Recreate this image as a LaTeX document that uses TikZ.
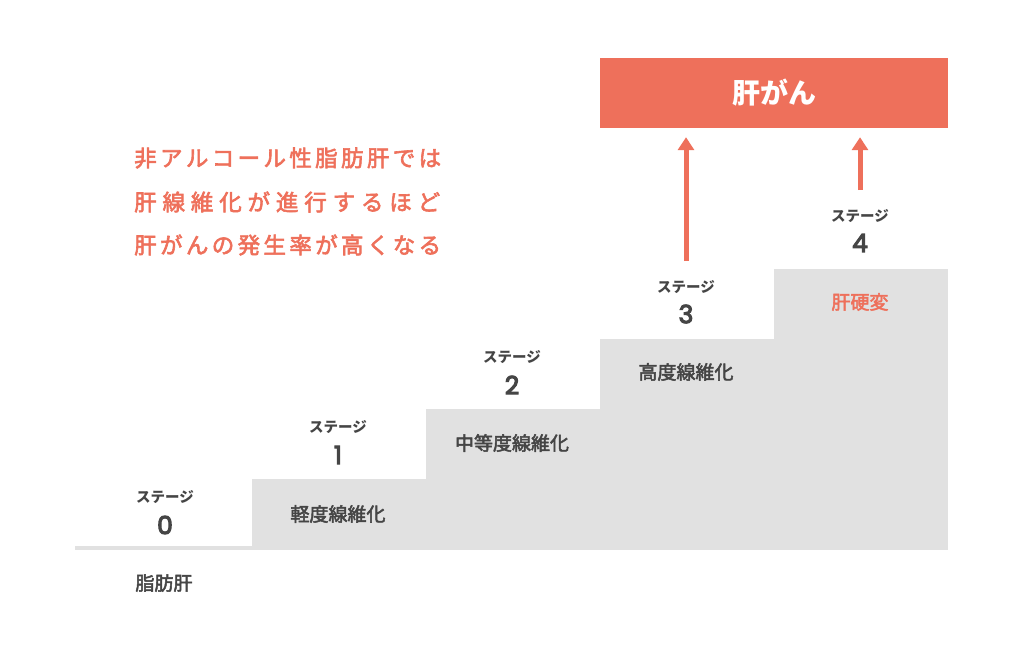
\documentclass[tikz,border=0pt]{standalone}
\usepackage{fontspec}
\usetikzlibrary{arrows.meta}
\setmainfont{Noto Sans CJK JP}
\newfontfamily\jp{Noto Sans CJK JP}
\newfontfamily\numfont{Poppins}
\newcommand\heavier[2]{\special{pdf:literal direct 2 Tr #1 w}#2\special{pdf:literal direct 0 Tr}}
\definecolor{salmon}{HTML}{EE705B}
\definecolor{stepgray}{HTML}{E1E1E1}
\definecolor{ink}{HTML}{454545}
\tikzset{
  x=1pt, y=-1pt,
  block/.style={fill=stepgray, draw=none},
  stagelbl/.style={font=\jp\bfseries\fontsize{14.5}{14.5}\selectfont, text=ink, inner sep=0},
  stagenum/.style={font=\numfont\fontsize{25}{25}\selectfont, text=ink, inner sep=0},
  blocklbl/.style={font=\jp\fontsize{19}{19}\selectfont, text=ink, inner sep=0},
  bigarrow/.style={draw=salmon, line width=5pt, shorten >=9pt, -{Triangle[width=16pt,length=13pt]}},
  msg/.style={font=\jp\fontsize{22.5}{22.5}\selectfont, text=salmon, inner sep=0, anchor=west}
}
\begin{document}
\begin{tikzpicture}
\useasboundingbox (0,0) rectangle (1024,647);
% floor and steps
\fill[stepgray] (75,546) rectangle (948,550);
\fill[stepgray] (252,479) rectangle (948,550);
\fill[stepgray] (426,409) rectangle (948,550);
\fill[stepgray] (600,339) rectangle (948,550);
\fill[stepgray] (774,269) rectangle (948,550);
% cancer box
\node[fill=salmon, minimum width=348pt, minimum height=70pt, inner sep=0,
  font=\jp\bfseries\fontsize{28}{28}\selectfont, text=white] (cancer) at (774,93) {肝がん};
% message
\node[msg] (m1) at (134,158) {\heavier{0.6}{\makebox[306pt][s]{非 ア ル コ ー ル 性 脂 肪 肝 で は}}};
\node[msg] (m2) at (134,202) {\heavier{0.6}{\makebox[306pt][s]{肝 線 維 化 が 進 行 す る ほ ど}}};
\node[msg] (m3) at (134,245) {\heavier{0.6}{\makebox[306pt][s]{肝 が ん の 発 生 率 が 高 く な る}}};
% stage labels
\node[stagelbl] (s0) at (165,497) {ステージ};
\node[stagenum] (n0) at (165,525) {\heavier{1.1}{0}};
\node[stagelbl] (s1) at (338,427) {ステージ};
\node[stagenum] (n1) at (338,455) {\heavier{1.1}{1}};
\node[stagelbl] (s2) at (512,357) {ステージ};
\node[stagenum] (n2) at (512,385) {\heavier{1.1}{2}};
\node[stagelbl] (s3) at (686,287) {ステージ};
\node[stagenum] (n3) at (686,314) {\heavier{1.1}{3}};
\node[stagelbl] (s4) at (860,216) {ステージ};
\node[stagenum] (n4) at (860,243) {\heavier{1.1}{4}};
% block labels
\node[blocklbl] (b0) at (164,583) {\heavier{0.5}{脂肪肝}};
\node[blocklbl] (b1) at (338,514) {\heavier{0.5}{軽度線維化}};
\node[blocklbl] (b2) at (512,443) {\heavier{0.5}{中等度線維化}};
\node[blocklbl] (b3) at (686,372) {\heavier{0.5}{高度線維化}};
\node[blocklbl, text=salmon] (b4) at (860,302) {\heavier{0.5}{肝硬変}};
% arrows
\coordinate (a3) at (686,261);
\coordinate (a4) at (860,190);
\draw[bigarrow] (a3) -- (a3 |- cancer.south);
\draw[bigarrow] (a4) -- (a4 |- cancer.south);
\end{tikzpicture}
\end{document}
